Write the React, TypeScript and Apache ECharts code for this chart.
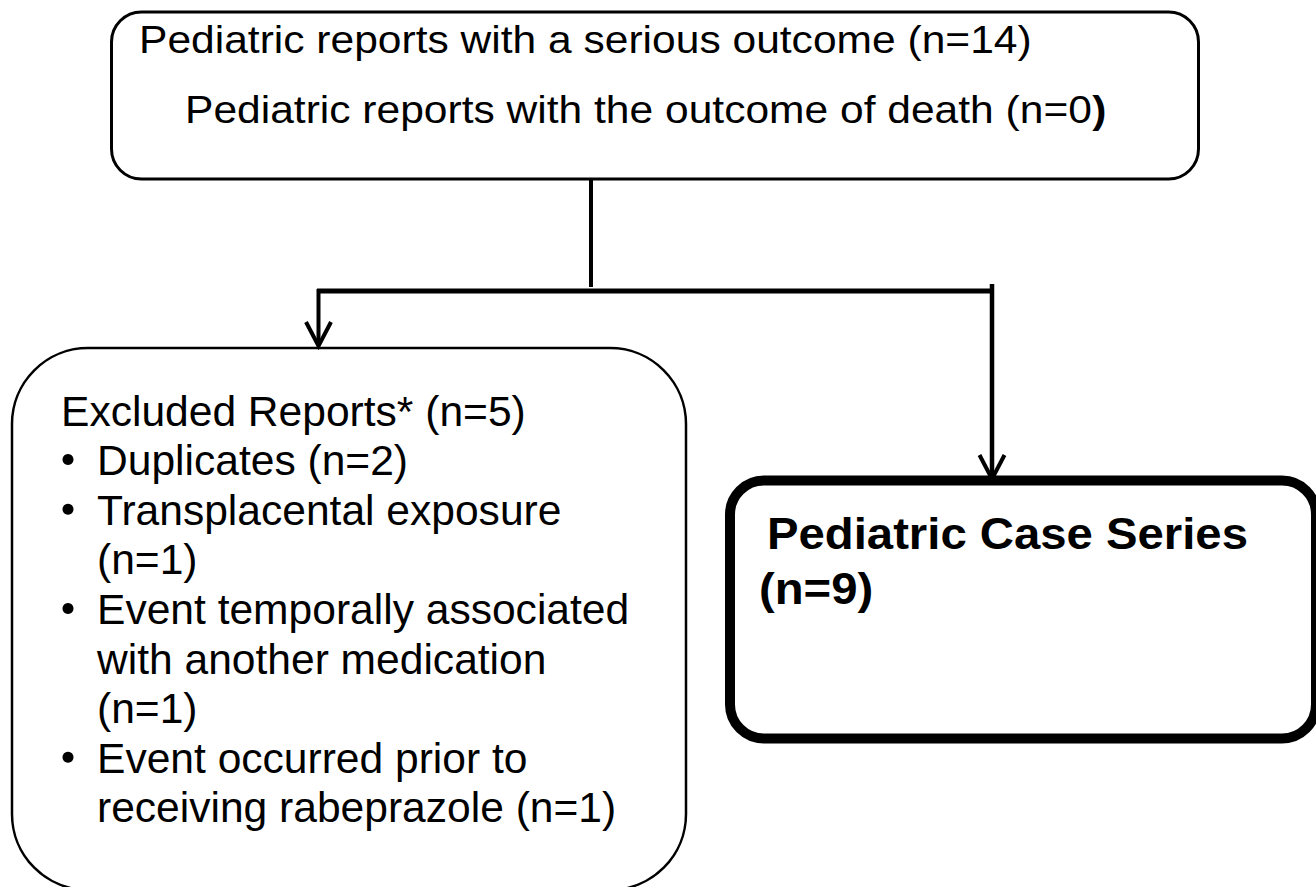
import React, { useEffect, useRef } from "react";
import * as echarts from "echarts";

// ---- data ----
const seriousLabel = "Pediatric reports with a serious outcome";
const seriousCount = 14;
const deathLabel = "Pediatric reports with the outcome of death";
const deathCount = 0;
const excludedLabel = "Excluded Reports*";
const excludedCount = 5;
// each reason is split into its display lines; the count is appended to the last line
const exclusionReasons: string[][] = [
  ["Duplicates"],
  ["Transplacental exposure", ""],
  ["Event temporally associated", "with another medication", ""],
  ["Event occurred prior to", "receiving rabeprazole"],
];
const exclusionCounts = [2, 1, 1, 1];
const caseSeriesLabel = "Pediatric Case Series";
const caseSeriesCount = 9;

const FONT = "'Liberation Sans', Arial, Helvetica, sans-serif";

function withCount(line: string, n: number) {
  return (line ? line + " " : "") + "(n=" + n + ")";
}

export default function App() {
  const ref = useRef<HTMLDivElement>(null);
  useEffect(() => {
    if (!ref.current) return;
    const chart = echarts.init(ref.current, undefined, { renderer: "svg" });
    const g: any[] = [];
    const black = "#000";

    const text = (x: number, baseline: number, size: number, str: string, scaleX: number, bold = false) => {
      g.push({
        type: "text",
        x,
        y: baseline - 0.358 * size,
        scaleX,
        style: {
          text: str,
          x: 0,
          y: 0,
          fill: black,
          fontSize: size,
          fontFamily: FONT,
          fontWeight: bold ? "bold" : "normal",
          align: "left",
          textAlign: "left",
          verticalAlign: "middle",
          textVerticalAlign: "middle",
        },
      });
    };

    // ---- boxes ----
    g.push({
      type: "rect",
      shape: { x: 111.5, y: 12, width: 1087, height: 167, r: 30 },
      style: { fill: "#fff", stroke: black, lineWidth: 3 },
      z: 1,
    });
    g.push({
      type: "rect",
      shape: { x: 12, y: 348, width: 674, height: 542, r: 76 },
      style: { fill: "#fff", stroke: black, lineWidth: 2.5 },
      z: 1,
    });
    g.push({
      type: "rect",
      shape: { x: 730, y: 480.5, width: 586, height: 258, r: 34 },
      style: { fill: "#fff", stroke: black, lineWidth: 10 },
      z: 1,
    });

    // ---- connectors ----
    const line = (x1: number, y1: number, x2: number, y2: number, w: number) =>
      g.push({ type: "line", shape: { x1, y1, x2, y2 }, style: { stroke: black, lineWidth: w }, z: 2 });
    line(591, 180, 591, 287, 4);
    line(317, 291, 994, 291, 5);
    line(318.5, 289, 318.5, 344, 4);
    line(992, 284, 992, 476, 4.5);
    const arrow = (x: number, tipY: number) =>
      g.push({
        type: "polyline",
        shape: { points: [[x - 12.5, tipY - 25], [x, tipY - 1], [x + 12.5, tipY - 25]] },
        style: { stroke: black, lineWidth: 4, fill: "none", lineJoin: "miter" },
        z: 3,
      });
    arrow(318.5, 347);
    arrow(992, 480);

    // ---- top box text ----
    text(139, 53, 38, withCount(seriousLabel, seriousCount), 1.12);
    g.push({
      type: "text",
      x: 185,
      y: 123 - 0.358 * 38,
      scaleX: 1.12,
      style: {
        text: "{a|" + deathLabel + " (n=" + deathCount + "}{b|)}",
        x: 0,
        y: 0,
        fill: black,
        align: "left",
        textAlign: "left",
        verticalAlign: "middle",
        textVerticalAlign: "middle",
        rich: {
          a: { fontSize: 38, fontFamily: FONT, fill: black, lineHeight: 38 },
          b: { fontSize: 38, fontFamily: FONT, fontWeight: "bold", fill: black, lineHeight: 38 },
        },
      },
      z: 5,
    });

    // ---- excluded box text ----
    const L0 = 426;
    const LS = 49.6;
    text(61, L0, 43, withCount(excludedLabel, excludedCount), 0.99);
    let row = 1;
    exclusionReasons.forEach((lines, i) => {
      g.push({
        type: "circle",
        shape: { cx: 68, cy: L0 + row * LS - 16, r: 5.5 },
        style: { fill: black },
        z: 5,
      });
      lines.forEach((ln, j) => {
        const s = j === lines.length - 1 ? withCount(ln, exclusionCounts[i]) : ln;
        text(97, L0 + row * LS, 43, s, 0.99);
        row++;
      });
    });

    // ---- case series box text ----
    text(767, 550, 44, caseSeriesLabel, 1.075, true);
    text(759, 605, 44, "(n=" + caseSeriesCount + ")", 1.075, true);

    chart.setOption({ animation: false, graphic: g.map((e) => ({ z: 5, ...e })) });
    return () => chart.dispose();
  }, []);
  return (
    <div
      ref={ref}
      style={{ position: "fixed", left: 0, top: 0, width: 1316, height: 887, background: "#fff" }}
    />
  );
}
